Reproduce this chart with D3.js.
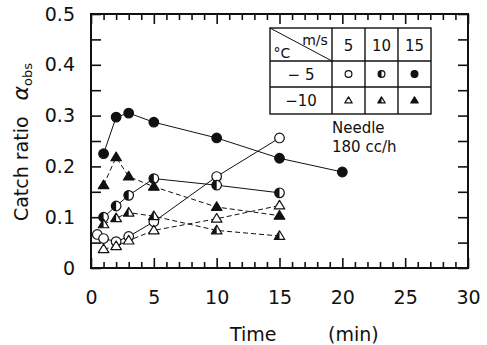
<!DOCTYPE html>
<html>
<head>
<meta charset="utf-8">
<script src="https://cdn.jsdelivr.net/npm/d3@7"></script>
<style>
  body { margin: 0; background: #fff; }
  svg { display: block; }
  text { font-family: "DejaVu Sans", sans-serif; fill: #111; }
</style>
</head>
<body>
<div id="chart"></div>
<script>
(function () {

    "use strict";

    // Data: catch ratio vs time (min)
    // -5 C, 5 m/s (open circle)
    var tOpenCircle = [0.5, 1, 2, 3, 5, 10, 15],
        yOpenCircle = [0.066, 0.058, 0.052, 0.062, 0.091, 0.180, 0.256];
    // -5 C, 10 m/s (half circle)
    var tHalfCircle = [1, 2, 3, 5, 10, 15],
        yHalfCircle = [0.100, 0.122, 0.143, 0.176, 0.163, 0.148];
    // -5 C, 15 m/s (filled circle)
    var tFullCircle = [1, 2, 3, 5, 10, 15, 20],
        yFullCircle = [0.225, 0.297, 0.305, 0.287, 0.256, 0.216, 0.189];
    // -10 C, 5 m/s (open triangle)
    var tOpenTri = [1, 2, 3, 5, 10, 15],
        yOpenTri = [0.037, 0.043, 0.054, 0.074, 0.097, 0.123];
    // -10 C, 10 m/s (half triangle)
    var tHalfTri = [1, 2, 3, 5, 10, 15],
        yHalfTri = [0.086, 0.098, 0.109, 0.102, 0.074, 0.063];
    // -10 C, 15 m/s (filled triangle)
    var tFullTri = [1, 2, 3, 5, 10, 15],
        yFullTri = [0.163, 0.218, 0.180, 0.160, 0.120, 0.103];

    var xTickLabels = [0, 5, 10, 15, 20, 25, 30],
        yTickLabels = [0, 0.1, 0.2, 0.3, 0.4, 0.5],
        speedLabels = ["5", "10", "15"],
        tempLabels = ["\u2212 5", "\u221210"];

    var series = [
        {t: tOpenCircle, y: yOpenCircle, shape: "circle", fill: "open", dash: null},
        {t: tHalfCircle, y: yHalfCircle, shape: "circle", fill: "half", dash: null},
        {t: tFullCircle, y: yFullCircle, shape: "circle", fill: "full", dash: null},
        {t: tOpenTri, y: yOpenTri, shape: "tri", fill: "open", dash: "5,3"},
        {t: tHalfTri, y: yHalfTri, shape: "tri", fill: "half", dash: "5,3"},
        {t: tFullTri, y: yFullTri, shape: "tri", fill: "full", dash: "5,3"}
    ];

    var W = 487, H = 345,
        left = 91, right = 468, top = 14, bottom = 268;

    var svg = d3.select("#chart").append("svg")
        .attr("width", W).attr("height", H);

    var x = d3.scaleLinear().domain([0, 30]).range([left, right]),
        y = d3.scaleLinear().domain([0, 0.5]).range([bottom, top]);

    /* axes: inward ticks on all four sides */

    var minorX = d3.range(0, 31).filter(function (d) { return d % 5 !== 0; }),
        minorY = d3.range(0.05, 0.5, 0.1);

    function tickStyle(g) {
        g.select(".domain").remove();
        g.selectAll("line").attr("stroke", "#111").attr("stroke-width", 1.6);
        g.selectAll("text").attr("font-size", 19).style("font-family", "DejaVu Sans, sans-serif");
    }

    svg.append("g").attr("transform", "translate(0," + bottom + ")")
        .call(d3.axisBottom(x).tickValues(minorX).tickSize(-6).tickFormat(""))
        .call(tickStyle);
    svg.append("g").attr("transform", "translate(0," + bottom + ")")
        .call(d3.axisBottom(x).tickValues(xTickLabels).tickSize(-10).tickPadding(23))
        .call(tickStyle);
    svg.append("g").attr("transform", "translate(0," + top + ")")
        .call(d3.axisTop(x).tickValues(minorX).tickSize(-6).tickFormat(""))
        .call(tickStyle);
    svg.append("g").attr("transform", "translate(0," + top + ")")
        .call(d3.axisTop(x).tickValues(xTickLabels).tickSize(-10).tickFormat(""))
        .call(tickStyle);

    svg.append("g").attr("transform", "translate(" + left + ",0)")
        .call(d3.axisLeft(y).tickValues(minorY).tickSize(-10).tickFormat(""))
        .call(tickStyle);
    svg.append("g").attr("transform", "translate(" + left + ",0)")
        .call(d3.axisLeft(y).tickValues(yTickLabels).tickSize(-10).tickPadding(16)
            .tickFormat(function (d) { return d === 0 ? "0" : d3.format(".1f")(d); }))
        .call(tickStyle);
    svg.append("g").attr("transform", "translate(" + right + ",0)")
        .call(d3.axisRight(y).tickValues(minorY.concat(yTickLabels)).tickSize(-10).tickFormat(""))
        .call(tickStyle);

    svg.append("rect")
        .attr("x", left).attr("y", top)
        .attr("width", right - left).attr("height", bottom - top)
        .attr("fill", "none").attr("stroke", "#111").attr("stroke-width", 2);

    /* axis titles */

    svg.append("text").attr("x", 230).attr("y", 341).attr("font-size", 19).text("Time");
    svg.append("text").attr("x", 328).attr("y", 341).attr("font-size", 19).text("(min)");

    var yt = svg.append("text")
        .attr("transform", "translate(28,142) rotate(-90)")
        .attr("text-anchor", "middle")
        .attr("font-size", 19);
    yt.append("tspan").text("Catch ratio");
    yt.append("tspan").attr("dx", 16).attr("font-size", 22).attr("font-style", "italic").text("\u03b1");
    yt.append("tspan").attr("font-size", 13).attr("dy", 4).text("obs");

    /* markers */

    function marker(g, shape, fill, cx, cy, r) {
        var m = g.append("g").attr("transform", "translate(" + cx + "," + cy + ")");
        if (shape === "circle") {
            m.append("circle").attr("r", r)
                .attr("fill", fill === "full" ? "#111" : "#fff")
                .attr("stroke", "#111").attr("stroke-width", 1.2);
            if (fill === "half") {
                m.append("path")
                    .attr("d", "M0," + (-r) + "A" + r + "," + r + " 0 0 0 0," + r + "Z")
                    .attr("fill", "#111");
            }
        } else {
            var h = r * 1.8, w = r * 1.1;
            var pts = [[0, -h * 0.6], [w, h * 0.4], [-w, h * 0.4]];
            m.append("path")
                .attr("d", "M" + pts.join("L") + "Z")
                .attr("fill", fill === "full" ? "#111" : "#fff")
                .attr("stroke", "#111").attr("stroke-width", 1.2)
                .attr("stroke-linejoin", "round");
            if (fill === "half") {
                m.append("path")
                    .attr("d", "M" + [[0, -h * 0.6], [-w, h * 0.4], [0, h * 0.4]].join("L") + "Z")
                    .attr("fill", "#111");
            }
        }
    }

    var line = d3.line()
        .x(function (d) { return x(d[0]); })
        .y(function (d) { return y(d[1]); });

    var plot = svg.append("g");

    series.forEach(function (s) {
        var pts = s.t.map(function (t, i) { return [t, s.y[i]]; });
        plot.append("path")
            .datum(pts)
            .attr("d", line)
            .attr("fill", "none")
            .attr("stroke", "#111")
            .attr("stroke-width", 1)
            .attr("stroke-dasharray", s.dash);
    });

    series.forEach(function (s) {
        s.t.forEach(function (t, i) {
            marker(plot, s.shape, s.fill, x(t), y(s.y[i]), 4.8);
        });
    });

    /* legend table */

    var tx = 270, ty = 28,
        colW = [62, 33, 33, 33],
        rowH = [33, 26, 27];

    var colX = [tx], rowY = [ty];
    colW.forEach(function (w, i) { colX.push(colX[i] + w); });
    rowH.forEach(function (h, i) { rowY.push(rowY[i] + h); });

    var leg = svg.append("g");

    leg.append("rect")
        .attr("x", tx).attr("y", ty)
        .attr("width", colX[4] - tx).attr("height", rowY[3] - ty)
        .attr("fill", "#fff").attr("stroke", "#111").attr("stroke-width", 1.4);

    colX.slice(1, 4).forEach(function (cx) {
        leg.append("line").attr("x1", cx).attr("x2", cx).attr("y1", ty).attr("y2", rowY[3])
            .attr("stroke", "#111").attr("stroke-width", 1.4);
    });
    rowY.slice(1, 3).forEach(function (ry) {
        leg.append("line").attr("x1", tx).attr("x2", colX[4]).attr("y1", ry).attr("y2", ry)
            .attr("stroke", "#111").attr("stroke-width", 1.4);
    });
    leg.append("line").attr("x1", tx).attr("y1", ty).attr("x2", colX[1]).attr("y2", rowY[1])
        .attr("stroke", "#111").attr("stroke-width", 1);

    leg.append("text").attr("x", 315).attr("y", 45).attr("text-anchor", "middle")
        .attr("font-size", 14).text("m/s");
    leg.append("text").attr("x", 282).attr("y", 58).attr("text-anchor", "middle")
        .attr("font-size", 14).text("\u00b0C");

    speedLabels.forEach(function (s, i) {
        leg.append("text")
            .attr("x", (colX[i + 1] + colX[i + 2]) / 2).attr("y", 51)
            .attr("text-anchor", "middle").attr("font-size", 15).text(s);
    });
    tempLabels.forEach(function (s, i) {
        leg.append("text")
            .attr("x", 301).attr("y", (rowY[i + 1] + rowY[i + 2]) / 2 + 5.5)
            .attr("text-anchor", "middle").attr("font-size", 15).text(s);
    });

    var fills = ["open", "half", "full"], shapes = ["circle", "tri"];
    shapes.forEach(function (sh, r) {
        fills.forEach(function (f, c) {
            marker(leg, sh, f,
                (colX[c + 1] + colX[c + 2]) / 2,
                (rowY[r + 1] + rowY[r + 2]) / 2, 3.4);
        });
    });

    svg.append("text").attr("x", 332).attr("y", 133).attr("font-size", 15).text("Needle");
    svg.append("text").attr("x", 332).attr("y", 152).attr("font-size", 15).text("180 cc/h");

}());
</script>
</body>
</html>
